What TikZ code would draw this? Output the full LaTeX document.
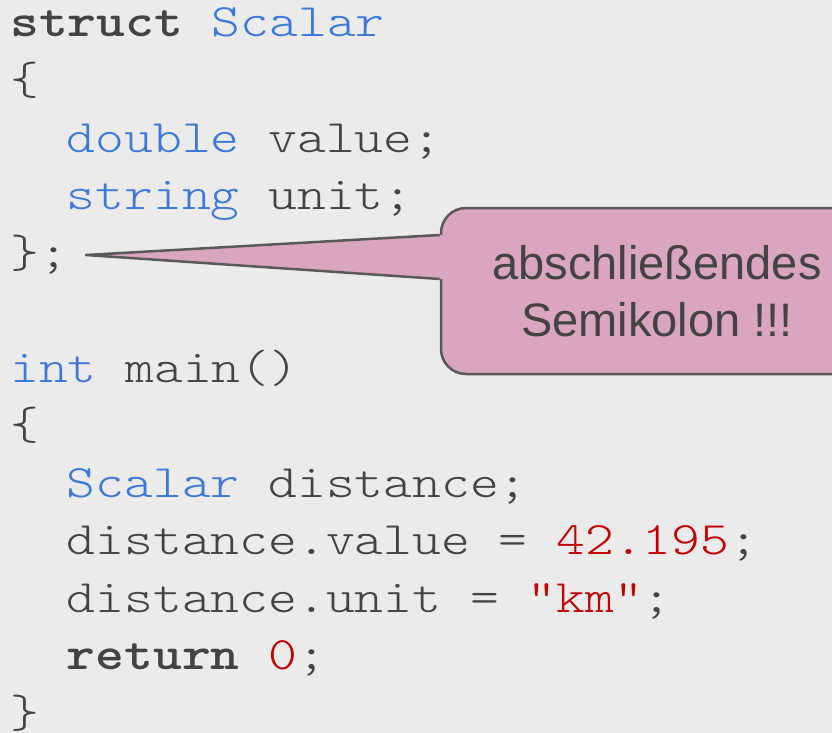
\documentclass[tikz,border=0pt]{standalone}
\usepackage{fontspec}
\setmainfont{Liberation Sans}
\newfontfamily\codefont{lmmonolt10}[Extension=.otf, UprightFont=*-regular,
  BoldFont=*-bold, FakeStretch=1.18]
\usepackage{tikz}

\definecolor{bggray}{HTML}{EBEBEB}
\definecolor{codegray}{HTML}{434343}
\definecolor{codeblue}{HTML}{3C78D8}
\definecolor{codered}{HTML}{C00000}
\definecolor{notepink}{HTML}{D9A5BF}
\definecolor{noteedge}{HTML}{595959}

\newcommand{\kw}[1]{\textcolor{codeblue}{#1}}
\newcommand{\lit}[1]{\textcolor{codered}{#1}}

\begin{document}
\begin{tikzpicture}[x=1pt,y=-1pt]
\tikzstyle{every node}+=[inner sep=0pt]
\tikzstyle{code}=[anchor=base west, text=codegray,
  font=\fontsize{46.5}{57.5}\selectfont\codefont]
\tikzstyle{notebox}=[draw=noteedge, line width=2.5pt, fill=notepink,
  rounded corners=25pt, minimum width=432pt, minimum height=166pt,
  text=codegray, align=center, font=\fontsize{47}{57}\selectfont]
\fill [bggray] (0,0) rectangle (832,733);
\useasboundingbox (0,0) rectangle (832,733);
% code lines
\node [code] (l1) at (10,37) {\textbf{struct} \kw{Scalar}};
\node [code] (l2) at (10,94.5) {\{};
\node [code] (l3) at (66.6,152) {\kw{double} value;};
\node [code] (l4) at (66.6,209.5) {\kw{string} unit;};
\node [code] (l5) at (10,267) {\};};
\node [code] (l7) at (10,382) {\kw{int} main()};
\node [code] (l8) at (10,439.5) {\{};
\node [code] (l9) at (66.6,497) {\kw{Scalar} distance;};
\node [code] (l10) at (66.6,554.5) {distance.value = \lit{42.195};};
\node [code] (l11) at (66.6,612) {distance.unit = \lit{"km"};};
\node [code] (l12) at (66.6,669.5) {\textbf{return} \lit{0};};
\node [code] (l13) at (10,727) {\}};
% callout
\coordinate (tip) at (86,255);
\node [notebox, yshift=-1pt] (note) at (657,290) {abschließendes\\Semikolon !!!};
\fill [notepink] (tip) -- ([yshift=56pt]note.west) -- ([xshift=3pt,yshift=56pt]note.west)
  -- ([xshift=3pt,yshift=12pt]note.west) -- ([yshift=12pt]note.west) -- cycle;
\draw [noteedge, line width=2.5pt, line join=round] ([yshift=56pt]note.west) -- (tip)
  -- ([yshift=12pt]note.west);
\end{tikzpicture}
\end{document}
